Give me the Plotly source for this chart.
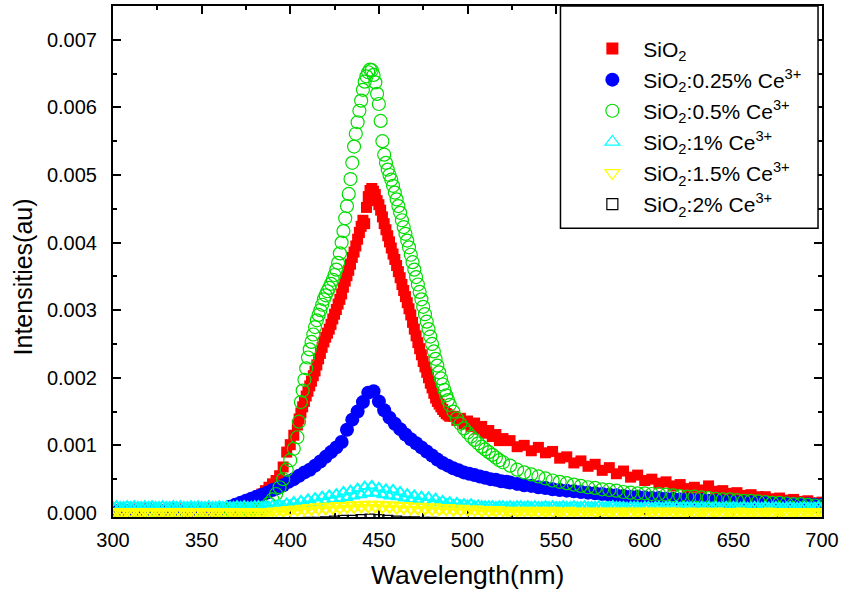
import plotly.graph_objects as go

# ---- wavelength grids (nm) ----
wl_main = (list(range(300, 360, 5)) + list(range(360, 405, 2)) + list(range(405, 491))
           + list(range(492, 521, 2)) + list(range(524, 701, 4)))
wl_blue = list(range(300, 361, 5)) + list(range(363, 523, 3)) + list(range(524, 701, 4))
wl_low = list(range(300, 701, 2))
wl_black = list(range(300, 701, 5))

# ---- emission intensities (au) ----
sio2 = [
    0.00005, 0.00004, 0.00005, 0.00006, 0.00005, 0.00004, 0.00005, 0.00005, 0.00006, 0.00005, 0.00005, 0.00006,
    0.00005, 0.00005, 0.00006, 0.00007, 0.00008, 0.00008, 0.0001, 0.00012, 0.00015, 0.00017, 0.0002, 0.00024,
    0.00028, 0.00033, 0.00038, 0.00043, 0.00048, 0.00055, 0.00068, 0.0009, 0.00101, 0.00115, 0.0013,
    0.00139, 0.00148, 0.00157, 0.00165, 0.00173, 0.0018, 0.00188, 0.00195, 0.00203, 0.0021,
    0.00219, 0.00228, 0.00236, 0.00245, 0.00253, 0.0026, 0.00266, 0.00272, 0.00279, 0.00287,
    0.00294, 0.00301, 0.00309, 0.00316, 0.00324, 0.00334, 0.00343, 0.00351, 0.00359, 0.00368,
    0.00378, 0.00386, 0.00395, 0.00405, 0.00415, 0.00424, 0.00433, 0.00428, 0.00452, 0.00468,
    0.00477, 0.0048, 0.00476, 0.00471, 0.00462, 0.00456, 0.00448, 0.00438, 0.00428, 0.00419,
    0.0041, 0.00401, 0.00392, 0.00383, 0.00375, 0.00366, 0.00357, 0.00348, 0.00338, 0.00329,
    0.0032, 0.00311, 0.00302, 0.00293, 0.00282, 0.00272, 0.00262, 0.00252, 0.00243, 0.00234,
    0.00224, 0.00216, 0.00208, 0.002, 0.00192, 0.00185, 0.00177, 0.0017, 0.00165, 0.00161,
    0.00157, 0.00153, 0.0015, 0.00147, 0.00145, 0.00143,
    0.00143, 0.00137, 0.0014, 0.00132, 0.00136, 0.00128, 0.00133, 0.00124, 0.00128, 0.00118,
    0.00122, 0.00113, 0.00116, 0.00107, 0.0011,
    0.00107, 0.00098, 0.001, 0.00092, 0.00097, 0.00089, 0.00091, 0.00081, 0.00083, 0.00074,
    0.00077, 0.00069, 0.00072, 0.00063, 0.00067, 0.00058, 0.00062, 0.00053, 0.00056, 0.00048,
    0.0005, 0.00044, 0.00046, 0.0004, 0.00042, 0.00036, 0.00038, 0.00034, 0.0004, 0.00032,
    0.00033, 0.00029, 0.0003, 0.00026, 0.00027, 0.00024, 0.00024, 0.00021, 0.00022, 0.00019,
    0.0002, 0.00017, 0.00018, 0.00015, 0.00016,
]

ce_050 = [
    0.00003, 0.00004, 0.00003, 0.00003, 0.00004, 0.00003, 0.00003, 0.00004, 0.00003, 0.00003, 0.00004, 0.00003,
    0.00004, 0.00004, 0.00004, 0.00005, 0.00005, 0.00005, 0.00005, 0.00005, 0.00006, 0.00006, 0.00006, 0.00006,
    0.00007, 0.00008, 0.00014, 0.0002, 0.00028, 0.00038, 0.0005, 0.00064, 0.00078, 0.00095, 0.00112,
    0.00135, 0.00164, 0.00181, 0.00197, 0.00214, 0.0023, 0.00242, 0.00253, 0.00264, 0.00275,
    0.00285, 0.00293, 0.003, 0.00308, 0.00316, 0.00322, 0.00328, 0.00333, 0.00339, 0.00345,
    0.00352, 0.0036, 0.0037, 0.00384, 0.004, 0.00417, 0.00436, 0.00454, 0.00472, 0.00494,
    0.00518, 0.00542, 0.00561, 0.00578, 0.00595, 0.0061, 0.00626, 0.00638, 0.00646, 0.00652,
    0.00656, 0.00655, 0.00648, 0.00637,
    0.0062, 0.00605, 0.0058, 0.0055, 0.0053, 0.00518, 0.00508, 0.005, 0.00493, 0.00484,
    0.00474, 0.00464, 0.00454, 0.00444, 0.00433, 0.00423, 0.00413, 0.00403, 0.00393, 0.00382,
    0.00371, 0.0036, 0.00349, 0.00338, 0.00327, 0.00316, 0.00305,
    0.00294, 0.00283, 0.00272, 0.00261, 0.0025, 0.00239, 0.00228, 0.00218, 0.00208, 0.00199,
    0.0019, 0.00182, 0.00174, 0.00167, 0.0016,
    0.0015, 0.0014, 0.00132, 0.00125, 0.00119, 0.00113, 0.00108, 0.00103, 0.00098, 0.00094,
    0.0009, 0.00086, 0.00082, 0.00078, 0.00075,
    0.0007, 0.00064, 0.0006, 0.00057, 0.00054, 0.00051, 0.00048, 0.00046, 0.00044, 0.00042,
    0.0004, 0.00038, 0.00037, 0.00035, 0.00034, 0.00033, 0.00031, 0.0003, 0.00029, 0.00029,
    0.00028, 0.00028, 0.00027, 0.00026, 0.00025, 0.00024, 0.00024, 0.00023, 0.00022, 0.00021,
    0.0002, 0.0002, 0.00019, 0.00018, 0.00018, 0.00017, 0.00016, 0.00015, 0.00015, 0.00014,
    0.00013, 0.00013, 0.00012, 0.00011, 0.0001,
]

ce_025 = [
    0.00004, 0.00005, 0.00004, 0.00004, 0.00005, 0.00004, 0.00004, 0.00005, 0.00004, 0.00004, 0.00005, 0.00004, 0.00005,
    0.00006, 0.00009, 0.00012, 0.00015, 0.00018, 0.00021, 0.00024, 0.00027, 0.0003, 0.00034,
    0.00037, 0.00041, 0.00046, 0.0005, 0.00055, 0.0006, 0.00064, 0.0007, 0.00076, 0.00083,
    0.0009, 0.00097, 0.00105, 0.00123, 0.00138, 0.0015, 0.00164, 0.00178, 0.0018, 0.00165,
    0.00152, 0.00141, 0.00132, 0.00124, 0.00116, 0.00109, 0.00103, 0.00097, 0.00091, 0.00085,
    0.00079, 0.00074, 0.0007, 0.00066, 0.00063, 0.0006, 0.00058, 0.00056, 0.00054, 0.00052,
    0.0005, 0.00049, 0.00047, 0.00046,
    0.00045, 0.00043, 0.00041, 0.0004, 0.00038, 0.00037, 0.00035, 0.00034, 0.00033, 0.00032,
    0.00031, 0.0003, 0.00029, 0.00028, 0.00027, 0.00026, 0.00025, 0.00024, 0.00024, 0.00023,
    0.00022, 0.00022, 0.00021, 0.00021, 0.0002, 0.0002, 0.00019, 0.00019, 0.00018, 0.00018,
    0.00017, 0.00017, 0.00016, 0.00016, 0.00016, 0.00015, 0.00015, 0.00014, 0.00014, 0.00014,
    0.00013, 0.00013, 0.00013, 0.00012, 0.00012,
]

ce_100 = [
    0.00009, 0.0001, 0.00009, 0.00009, 0.0001, 0.00009, 0.0001, 0.00009, 0.00009, 0.0001,
    0.00009, 0.0001, 0.00009, 0.00009, 0.0001, 0.00009, 0.00009, 0.0001, 0.00009, 0.0001,
    0.00009, 0.00009, 0.0001, 0.00009, 0.0001, 0.00009, 0.00009, 0.0001, 0.00009, 0.00009,
    0.0001, 0.00009, 0.0001, 0.00009, 0.00009, 0.0001, 0.00009, 0.0001, 0.00009, 0.00009,
    0.0001,
    0.0001, 0.00009, 0.0001, 0.00009, 0.00011, 0.0001, 0.00012, 0.0001, 0.00014, 0.00011,
    0.00016, 0.00012, 0.00018, 0.00013, 0.0002, 0.00015, 0.00022, 0.00016, 0.00024, 0.00018,
    0.00026, 0.0002, 0.00028, 0.00021, 0.00031, 0.00023, 0.00033, 0.00025, 0.00036, 0.00027,
    0.00039, 0.00029,
    0.0004, 0.00029, 0.00037, 0.00027, 0.00035, 0.00025, 0.00034, 0.00024, 0.00031, 0.00022,
    0.00028, 0.0002, 0.00026, 0.00019, 0.00024, 0.00017, 0.00023, 0.00016, 0.00021, 0.00015,
    0.00018, 0.00013, 0.00016, 0.00012, 0.00015, 0.00011, 0.00013, 0.00011, 0.00013, 0.0001,
    0.00011, 0.0001, 0.0001, 0.0001,
    0.0001, 0.00009, 0.0001, 0.0001, 0.00009, 0.0001, 0.00009, 0.0001, 0.0001, 0.00009,
    0.0001, 0.00009, 0.0001, 0.00009, 0.00009, 0.0001, 0.00009, 0.0001, 0.00009, 0.00009,
    0.0001, 0.00009, 0.00009, 0.0001, 0.00009, 0.00009, 0.0001, 0.00009, 0.00009, 0.00009,
    0.0001, 0.00009, 0.00009, 0.00009, 0.0001, 0.00009, 0.00009, 0.00009, 0.00008, 0.00009,
    0.00009, 0.00009, 0.00008, 0.00009, 0.00009, 0.00008, 0.00009, 0.00009, 0.00008, 0.00009,
    0.00009, 0.00008, 0.00009, 0.00008, 0.00009, 0.00009, 0.00008, 0.00009, 0.00008, 0.00009,
    0.00008, 0.00009, 0.00008, 0.00009, 0.00008, 0.00008, 0.00009, 0.00008, 0.00009, 0.00008,
    0.00008, 0.00009, 0.00008, 0.00008, 0.00009, 0.00008, 0.00008, 0.00009, 0.00008, 0.00008,
    0.00009, 0.00008, 0.00008, 0.00008, 0.00009, 0.00008, 0.00008, 0.00008, 0.00009, 0.00008,
    0.00008, 0.00008, 0.00009, 0.00008,
]

ce_150 = [
    0.00001, 0.00002, 0.00001, 0.00001, 0.00002, 0.00001, 0.00002, 0.00001, 0.00001, 0.00002,
    0.00001, 0.00001, 0.00002, 0.00001, 0.00002, 0.00001, 0.00001, 0.00002, 0.00001, 0.00001,
    0.00002, 0.00001, 0.00002, 0.00001, 0.00001, 0.00002, 0.00001, 0.00001, 0.00002, 0.00001,
    0.00002, 0.00001, 0.00001, 0.00002, 0.00001, 0.00001, 0.00002, 0.00001, 0.00002, 0.00001,
    0.00001,
    0.00002, 0.00001, 0.00002, 0.00002, 0.00003, 0.00002, 0.00004, 0.00002, 0.00005, 0.00003,
    0.00006, 0.00003, 0.00007, 0.00004, 0.00008, 0.00004, 0.00009, 0.00005, 0.0001, 0.00005,
    0.0001, 0.00006, 0.00011, 0.00006, 0.00011, 0.00007, 0.00012, 0.00007, 0.00012, 0.00008,
    0.00013, 0.00008,
    0.00013, 0.00008, 0.00013, 0.00007, 0.00012, 0.00007, 0.00012, 0.00006, 0.00011, 0.00006,
    0.00011, 0.00005, 0.0001, 0.00005, 0.0001, 0.00005, 0.00009, 0.00004, 0.00009, 0.00004,
    0.00008, 0.00004, 0.00008, 0.00003, 0.00007, 0.00003, 0.00007, 0.00003, 0.00006, 0.00003,
    0.00006, 0.00002, 0.00005, 0.00002,
    0.00005, 0.00002, 0.00005, 0.00002, 0.00004, 0.00002, 0.00004, 0.00002, 0.00004, 0.00002,
    0.00004, 0.00002, 0.00004, 0.00001, 0.00004, 0.00002, 0.00004, 0.00001, 0.00004, 0.00002,
    0.00003, 0.00001, 0.00004, 0.00002, 0.00003, 0.00001, 0.00003, 0.00002, 0.00003, 0.00001,
    0.00003, 0.00002, 0.00003, 0.00001, 0.00003, 0.00001, 0.00003, 0.00002, 0.00003, 0.00001,
    0.00003, 0.00001, 0.00003, 0.00002, 0.00003, 0.00001, 0.00003, 0.00001, 0.00003, 0.00002,
    0.00003, 0.00001, 0.00003, 0.00001, 0.00002, 0.00001, 0.00003, 0.00001, 0.00002, 0.00001,
    0.00003, 0.00001, 0.00002, 0.00001, 0.00003, 0.00001, 0.00002, 0.00001, 0.00002, 0.00001,
    0.00003, 0.00001, 0.00002, 0.00001, 0.00002, 0.00001, 0.00002, 0.00001, 0.00003, 0.00001,
    0.00002, 0.00001, 0.00002, 0.00001, 0.00002, 0.00001, 0.00002, 0.00001, 0.00002, 0.00001,
    0.00002, 0.00001, 0.00002, 0.00001,
]

ce_200 = [
    -0.00015, -0.00015, -0.00015, -0.00015, -0.00015, -0.00015, -0.00015, -0.00015, -0.00015, -0.00015,
    -0.00015, -0.00015, -0.00015, -0.00015, -0.00015, -0.00015, -0.00015, -0.00015, -0.00015, -0.00015,
    -0.00015, -0.00015, -0.00014, -0.00014, -0.00013, -0.00012, -0.00011, -0.00011,
    -0.0001, -0.00009, -0.0001, -0.00011,
    -0.00012, -0.00013, -0.00013, -0.00014, -0.00014, -0.00015, -0.00015, -0.00015, -0.00015, -0.00015,
    -0.00015, -0.00015, -0.00015, -0.00015, -0.00015, -0.00015, -0.00015, -0.00015, -0.00015, -0.00015,
    -0.00015, -0.00015, -0.00015, -0.00015, -0.00015, -0.00015, -0.00015, -0.00015, -0.00015, -0.00015,
    -0.00015, -0.00015, -0.00015, -0.00015, -0.00015, -0.00015, -0.00015, -0.00015, -0.00015, -0.00015,
    -0.00015, -0.00015, -0.00015, -0.00015, -0.00015, -0.00015, -0.00015, -0.00015, -0.00015,
]

names = [
    "SiO<sub>2</sub>",
    "SiO<sub>2</sub>:0.25% Ce<sup>3+</sup>",
    "SiO<sub>2</sub>:0.5% Ce<sup>3+</sup>",
    "SiO<sub>2</sub>:1% Ce<sup>3+</sup>",
    "SiO<sub>2</sub>:1.5% Ce<sup>3+</sup>",
    "SiO<sub>2</sub>:2% Ce<sup>3+</sup>",
]

x_ticks = [300, 350, 400, 450, 500, 550, 600, 650, 700]
y_ticks = [0.0, 0.001, 0.002, 0.003, 0.004, 0.005, 0.006, 0.007]

FONT = "Liberation Sans, Arial, sans-serif"

# (x, y, name index, symbol, colour, size, outline width, legend size)
series = [
    (wl_black, ce_200, 5, "square-open", "#000000", 10, 1.2, 11),
    (wl_main, sio2, 0, "square", "#ff0000", 11, 0, 12),
    (wl_blue, ce_025, 1, "circle", "#0000ff", 14, 0, 14),
    (wl_main, ce_050, 2, "circle-open", "#00dd00", 13, 1.2, 13),
    (wl_low, ce_100, 3, "triangle-up-open", "#00ffff", 10, 2.0, 13),
    (wl_low, ce_150, 4, "triangle-down-open", "#ffff00", 10, 2.0, 13),
]

fig = go.Figure()
# data layers, in drawing order
for xs, ys, idx, sym, col, size, lw, _ in series:
    assert len(xs) == len(ys), (names[idx], len(xs), len(ys))
    fig.add_trace(go.Scatter(
        x=xs, y=ys, mode="markers", name=names[idx], showlegend=False,
        marker=dict(symbol=sym, size=size, color=col, line=dict(color=col, width=lw)),
    ))

# legend keys, listed in series order
for rank, (_, _, idx, sym, col, _, lw, lsize) in enumerate(
        sorted(series, key=lambda s: s[2]), start=1):
    fig.add_trace(go.Scatter(
        x=[None], y=[None], mode="markers", name=names[idx],
        legendrank=rank, legendgroup=f"g{rank}",
        marker=dict(symbol=sym, size=lsize, color=col,
                    line=dict(color=col, width=1.2 if lw else 0)),
    ))

L, R, T, B = 113, 17, 4, 76
W, H = 843, 593
pw, ph = W - L - R, H - T - B


def px_x(p):
    return (p - L) / pw


def px_y(p):
    return (H - B - p) / ph


axis_common = dict(
    showgrid=False, zeroline=False, showline=True, linecolor="black", linewidth=2,
    mirror="allticks", ticks="inside", ticklen=8, tickwidth=1.5, tickcolor="black",
    layer="below traces",
    tickfont=dict(family=FONT, size=20, color="black"),
)

fig.update_layout(
    width=W, height=H,
    margin=dict(l=L, r=R, t=T, b=B, pad=0),
    paper_bgcolor="white", plot_bgcolor="white",
    showlegend=True,
    legend=dict(
        x=px_x(584), y=px_y(26.5), xanchor="left", yanchor="top",
        bgcolor="rgba(0,0,0,0)", borderwidth=0,
        font=dict(family=FONT, size=21, color="black"),
        itemwidth=52, traceorder="grouped", tracegroupgap=0.8,
    ),
    xaxis=dict(
        range=[300, 700], tickvals=x_ticks, ticklabelstandoff=4,
        minor=dict(dtick=25, ticks="inside", ticklen=4, tickwidth=1.5, tickcolor="black"),
        **axis_common,
    ),
    yaxis=dict(
        range=[-0.00006, 0.0075], tickvals=y_ticks, tickformat=".3f", ticklabelstandoff=10,
        minor=dict(dtick=0.0005, ticks="inside", ticklen=4, tickwidth=1.5, tickcolor="black"),
        **axis_common,
    ),
    shapes=[dict(
        type="rect", xref="paper", yref="paper",
        x0=px_x(563), x1=px_x(822), y0=px_y(227), y1=1.0,
        line=dict(color="black", width=1.5), fillcolor="white", layer="above",
    )],
    annotations=[
        dict(text="Wavelength(nm)", xref="paper", yref="paper", x=0.5, y=px_y(575),
             xanchor="center", yanchor="middle", showarrow=False,
             font=dict(family=FONT, size=26.5, color="black")),
        dict(text="Intensities(au)", xref="paper", yref="paper", x=px_x(22), y=px_y(276),
             xanchor="center", yanchor="middle", showarrow=False, textangle=-90,
             font=dict(family=FONT, size=25, color="black")),
    ],
)

fig.write_html("out.html")
